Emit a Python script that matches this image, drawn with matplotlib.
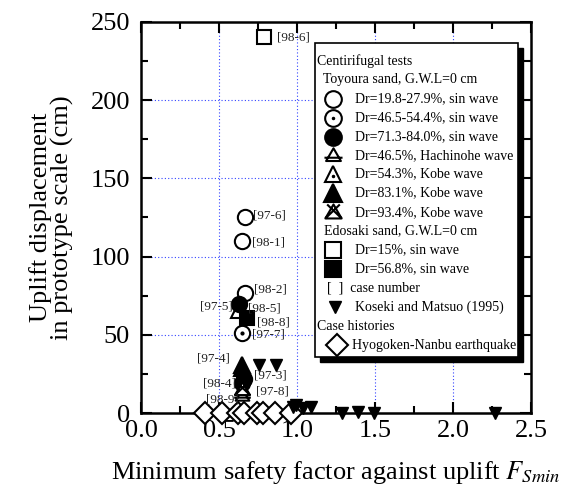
import matplotlib
matplotlib.use("Agg")
import matplotlib.pyplot as plt
from matplotlib.path import Path
from matplotlib.patches import Rectangle

plt.rcParams["font.family"] = ["Liberation Serif", "DejaVu Serif"]
plt.rcParams["mathtext.fontset"] = "stix"

# Centrifugal tests, Toyoura sand
open_circ_x = [0.667, 0.65, 0.667]
open_circ_y = [125, 110, 77]
dot_circ_x = [0.65]
dot_circ_y = [51]
fill_circ_x = [0.628, 0.66, 0.65]
fill_circ_y = [70, 22, 19]
hachi_x = [0.65]
hachi_y = [11]
kobe_open_x = [0.63]
kobe_open_y = [66]
kobe_fill_x = [0.647, 0.65]
kobe_fill_y = [29, 31]
kobe_cross_x = [0.65]
kobe_cross_y = [14.5]

# Edosaki sand
sq_open_x = [0.79]
sq_open_y = [240]
sq_fill_x = [0.68]
sq_fill_y = [61]

# Koseki and Matsuo (1995)
koseki_x = [0.756, 0.865, 0.975, 0.99, 1.04, 1.09, 1.29, 1.39, 1.49, 2.27]
koseki_y = [31, 31, 4, 5, 3, 4, 0, 1, 0, 0]

# Hyogoken-Nanbu earthquake
hyogo_x = [0.41, 0.52, 0.62, 0.66, 0.74, 0.78, 0.86, 0.96]
hyogo_y = [0, 0, 0, 0, 0, 0, 0, 0]

# case numbers
case_labels = ["[98-6]", "[97-6]", "[98-1]", "[98-2]", "[97-5]", "[98-5]", "[98-8]",
               "[97-7]", "[97-4]", "[97-3]", "[98-4]", "[97-8]", "[98-9]"]
case_x = [0.872, 0.718, 0.712, 0.724, 0.59, 0.686, 0.744, 0.712, 0.57, 0.724, 0.609, 0.737, 0.628]
case_y = [240, 126, 109, 79, 68, 67, 58, 50, 35, 24, 19, 14, 9]
case_ha = ["left", "left", "left", "left", "right", "left", "left", "left", "right", "left",
           "right", "left", "right"]

# custom markers
tri = [(0, 1), (-0.9, -0.55), (0.9, -0.55), (0, 1)]
hachi_marker = Path(tri + [(-1.1, -0.15), (1.1, -0.15)],
                    [Path.MOVETO, Path.LINETO, Path.LINETO, Path.CLOSEPOLY,
                     Path.MOVETO, Path.LINETO])
cross_marker = Path(tri + [(-0.7, 1), (0.9, -0.55), (0.7, 1), (-0.9, -0.55)],
                    [Path.MOVETO, Path.LINETO, Path.LINETO, Path.CLOSEPOLY,
                     Path.MOVETO, Path.LINETO, Path.MOVETO, Path.LINETO])

fig = plt.figure(figsize=(5.62, 4.96), dpi=100)
ax = fig.add_axes([0.251, 0.167, 0.694, 0.789])

kw = dict(linestyle="none", mec="black", mew=1.5, clip_on=False, zorder=5)
ax.plot(open_circ_x, open_circ_y, marker="o", ms=11, mfc="white", **kw)
ax.plot(dot_circ_x, dot_circ_y, marker="o", ms=11, mfc="white", **kw)
ax.plot(dot_circ_x, dot_circ_y, marker=".", ms=3, mfc="black", **kw)
ax.plot(kobe_open_x, kobe_open_y, marker="^", ms=11, mfc="white", **kw)
ax.plot(fill_circ_x, fill_circ_y, marker="o", ms=11, mfc="black", **kw)
ax.plot(hachi_x, hachi_y, marker=hachi_marker, ms=12, mfc="white", **kw)
ax.plot(kobe_cross_x, kobe_cross_y, marker=cross_marker, ms=12, mfc="white", **kw)
ax.plot(kobe_fill_x, kobe_fill_y, marker="^", ms=12, mfc="black", **kw)
ax.plot(sq_open_x, sq_open_y, marker="s", ms=10, mfc="white", **kw)
ax.plot(sq_fill_x, sq_fill_y, marker="s", ms=10, mfc="black", **kw)
ax.plot(hyogo_x, hyogo_y, marker="D", ms=11, mfc="white", **kw)
ax.plot(koseki_x, koseki_y, marker="v", ms=8, mfc="black", mec="black", mew=1,
        linestyle="none", clip_on=False, zorder=6)

for lab, x, y, ha in zip(case_labels, case_x, case_y, case_ha):
    ax.text(x, y, lab, ha=ha, va="center", fontsize=9.5, color="#222222", zorder=7)

ax.set_xlim(0, 2.5)
ax.set_ylim(0, 250)
ax.set_xticks([0, 0.5, 1.0, 1.5, 2.0, 2.5])
ax.set_xticklabels(["0.0", "0.5", "1.0", "1.5", "2.0", "2.5"])
ax.set_yticks([0, 50, 100, 150, 200, 250])
ax.set_xticks([0.25, 0.75, 1.25, 1.75, 2.25], minor=True)
ax.set_yticks([25, 75, 125, 175, 225], minor=True)
ax.tick_params(which="both", direction="in", top=True, right=True, labelsize=19, width=1.5)
ax.tick_params(which="major", length=8, pad=5)
ax.tick_params(which="minor", length=5)
ax.tick_params(axis="y", pad=8)
for sp in ax.spines.values():
    sp.set_linewidth(1.8)

for gx in [0.5, 1.0, 1.5, 2.0]:
    ax.axvline(gx, color="#3344ff", linestyle=(0, (1, 2)), linewidth=0.8, zorder=1)
for gy in [50, 100, 150, 200]:
    ax.axhline(gy, color="#3344ff", linestyle=(0, (1, 2)), linewidth=0.8, zorder=1)

ax.set_xlabel("Minimum safety factor against uplift $F_{Smin}$", fontsize=19, labelpad=12)
ax.set_ylabel("Uplift displacement\nin prototype scale (cm)", fontsize=19, labelpad=12,
              linespacing=0.95)

# legend box drawn by hand (section headers with different indents)
bx0, bx1, by0, by1 = 0.446, 0.967, 0.143, 0.946
ax.add_patch(Rectangle((bx0 + 0.013, by0 - 0.013), bx1 - bx0, by1 - by0,
                       transform=ax.transAxes, facecolor="black", edgecolor="black",
                       zorder=8))
ax.add_patch(Rectangle((bx0, by0), bx1 - bx0, by1 - by0, transform=ax.transAxes,
                       facecolor="white", edgecolor="black", linewidth=1.2, zorder=9))

rows_y = [61, 80, 99, 118, 137, 156, 174, 193, 213, 231, 250, 269, 288, 307, 326, 345]


def ay(py):
    return (413 - py) / 391


def axf(px):
    return (px - 141) / 390


def lgd_text(px, py, s):
    ax.text(axf(px), ay(py), s, transform=ax.transAxes, fontsize=10, ha="left",
            va="center", zorder=10)


def lgd_mark(px, py, **mk):
    ax.plot([axf(px)], [ay(py)], transform=ax.transAxes, linestyle="none", mec="black",
            clip_on=False, zorder=10, **mk)


lgd_text(317, rows_y[0], "Centirifugal tests")
lgd_text(323, rows_y[1], "Toyoura sand, G.W.L=0 cm")
entries = [
    (dict(marker="o", ms=12, mfc="white", mew=1.5), "Dr=19.8-27.9%, sin wave"),
    (dict(marker="o", ms=12, mfc="white", mew=1.5), "Dr=46.5-54.4%, sin wave"),
    (dict(marker="o", ms=12, mfc="black", mew=1.5), "Dr=71.3-84.0%, sin wave"),
    (dict(marker=hachi_marker, ms=13, mfc="white", mew=1.5), "Dr=46.5%, Hachinohe wave"),
    (dict(marker="^", ms=12, mfc="white", mew=1.5), "Dr=54.3%, Kobe wave"),
    (dict(marker="^", ms=13, mfc="black", mew=1.5), "Dr=83.1%, Kobe wave"),
    (dict(marker=cross_marker, ms=13, mfc="white", mew=1.5), "Dr=93.4%, Kobe wave"),
]
for i, (mk, s) in enumerate(entries):
    lgd_mark(333, rows_y[2 + i], **mk)
    lgd_text(355, rows_y[2 + i], s)
lgd_mark(333, rows_y[3], marker=".", ms=3, mfc="black")
lgd_mark(333, rows_y[6] + 2, marker=".", ms=3, mfc="black")

lgd_text(324, rows_y[9], "Edosaki sand, G.W.L=0 cm")
lgd_mark(333, rows_y[10], marker="s", ms=11, mfc="white", mew=1.5)
lgd_text(355, rows_y[10], "Dr=15%, sin wave")
lgd_mark(333, rows_y[11], marker="s", ms=11, mfc="black", mew=1.5)
lgd_text(355, rows_y[11], "Dr=56.8%, sin wave")
lgd_text(327, rows_y[12], "[  ]  case number")
lgd_mark(335, rows_y[13], marker="v", ms=8, mfc="black")
lgd_text(355, rows_y[13], "Koseki and Matsuo (1995)")
lgd_text(317, rows_y[14], "Case histories")
lgd_mark(337, rows_y[15], marker="D", ms=11, mfc="white", mew=1.5)
lgd_text(352, rows_y[15], "Hyogoken-Nanbu earthquake")

fig.savefig("out.png", dpi=100)
